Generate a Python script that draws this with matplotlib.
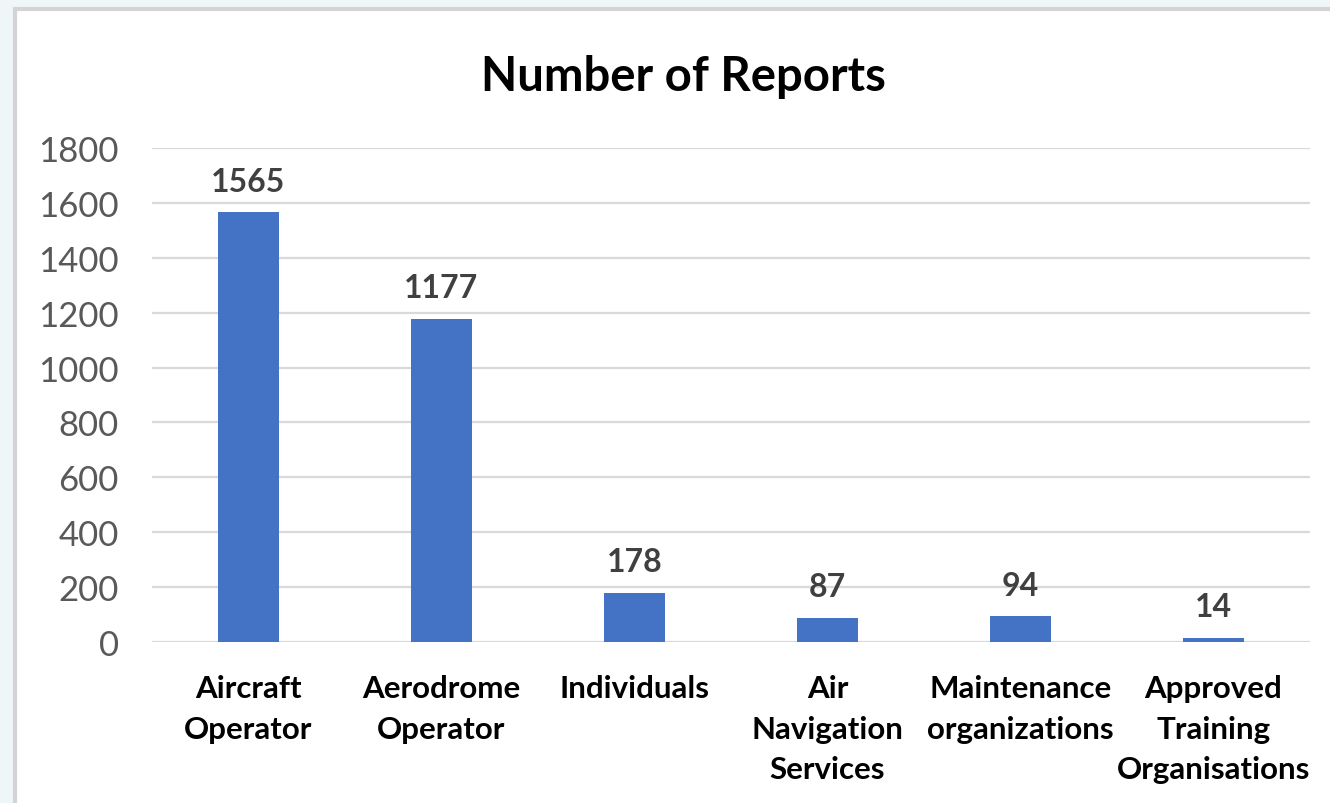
import matplotlib.pyplot as plt
from matplotlib.patches import Rectangle

categories = ["Aircraft\nOperator", "Aerodrome\nOperator", "Individuals",
              "Air\nNavigation\nServices", "Maintenance\norganizations",
              "Approved\nTraining\nOrganisations"]
reports = [1565, 1177, 178, 87, 94, 14]
yticks = [0, 200, 400, 600, 800, 1000, 1200, 1400, 1600, 1800]

plt.rcParams['font.family'] = ['Lato', 'DejaVu Sans']

fig = plt.figure(figsize=(13.3, 8.04), dpi=100)
fig.patch.set_facecolor('#eef6f8')

# white chart panel with grey frame
panel = Rectangle((15 / 1330, -0.02), 1.0, 1 - 10 / 804 + 0.02,
                  transform=fig.transFigure, facecolor='white',
                  edgecolor='#d4d4d4', linewidth=3, zorder=-5)
fig.patches.append(panel)

ax = fig.add_axes([152 / 1330, 1 - 643 / 804, (1310 - 152) / 1330, (643 - 149) / 804])
ax.set_zorder(1)
ax.set_facecolor('white')
x = range(len(categories))
bars = ax.bar(x, reports, width=0.315, color='#4472C4', zorder=2)

ax.set_xlim(-0.5, len(categories) - 0.5)
ax.set_ylim(0, 1800)
ax.set_yticks(yticks)
ax.set_yticklabels([str(t) for t in yticks], fontsize=25, color='#595959')
ax.yaxis.grid(True, color='#d9d9d9', linewidth=1.6, zorder=0)
ax.set_axisbelow(True)
ax.tick_params(axis='y', length=0, pad=24)
ax.tick_params(axis='x', length=0, pad=23)
ax.set_xticks(list(x))
ax.set_xticklabels(categories, fontsize=22.5, fontweight='bold', color='black',
                   linespacing=1.55)
for s in ax.spines.values():
    s.set_visible(False)

for b, v in zip(bars, reports):
    ax.annotate(str(v), (b.get_x() + b.get_width() / 2, v), xytext=(0, 12),
                textcoords='offset points', ha='center', va='bottom',
                fontsize=23, fontweight='bold', color='#404040')

fig.text(683 / 1330, 1 - 77 / 804, "Number of Reports", ha='center', va='center',
         fontsize=34, fontweight='bold', color='black')

fig.savefig('out.png', dpi=100, facecolor=fig.get_facecolor())
